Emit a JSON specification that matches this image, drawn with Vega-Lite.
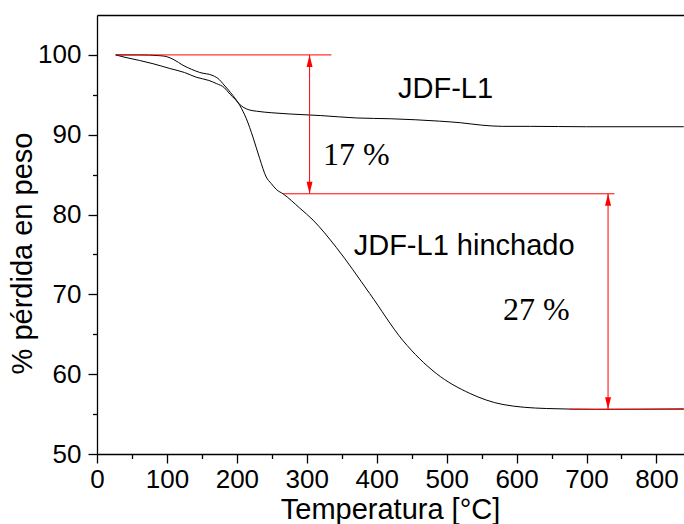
{
  "$schema": "https://vega.github.io/schema/vega-lite/v6.json",
  "width": 587,
  "height": 439,
  "autosize": "none",
  "padding": {"left": 97, "top": 15, "right": 0, "bottom": 70},
  "background": "white",
  "config": {
    "view": {"stroke": null},
    "axis": {
      "grid": false,
      "domainColor": "black",
      "tickColor": "black",
      "labelColor": "black",
      "titleColor": "black",
      "labelFont": "Liberation Sans",
      "titleFont": "Liberation Sans",
      "labelFontSize": 26,
      "titleFontSize": 29,
      "titleFontWeight": "normal",
      "domainWidth": 1.3,
      "tickWidth": 1.3,
      "labelFlush": false,
      "labelOverlap": false,
      "labelBound": false
    }
  },
  "resolve": {"axis": {"x": "independent", "y": "independent"}},
  "layer": [
    {
      "data": {
        "values": [
          {"serie": "JDF-L1", "t": 26.7, "w": 100},
          {"serie": "JDF-L1", "t": 40, "w": 99.7},
          {"serie": "JDF-L1", "t": 61, "w": 99.3},
          {"serie": "JDF-L1", "t": 80, "w": 98.9},
          {"serie": "JDF-L1", "t": 104, "w": 98.3},
          {"serie": "JDF-L1", "t": 125, "w": 97.8},
          {"serie": "JDF-L1", "t": 142, "w": 97.2},
          {"serie": "JDF-L1", "t": 160, "w": 96.8},
          {"serie": "JDF-L1", "t": 171, "w": 96.4},
          {"serie": "JDF-L1", "t": 182, "w": 95.9},
          {"serie": "JDF-L1", "t": 190, "w": 95.1},
          {"serie": "JDF-L1", "t": 198, "w": 94.4},
          {"serie": "JDF-L1", "t": 204, "w": 93.8},
          {"serie": "JDF-L1", "t": 210, "w": 93.4},
          {"serie": "JDF-L1", "t": 218, "w": 93.1},
          {"serie": "JDF-L1", "t": 228, "w": 92.95},
          {"serie": "JDF-L1", "t": 250, "w": 92.75},
          {"serie": "JDF-L1", "t": 275, "w": 92.6},
          {"serie": "JDF-L1", "t": 320, "w": 92.4},
          {"serie": "JDF-L1", "t": 371, "w": 92.1},
          {"serie": "JDF-L1", "t": 420, "w": 92.0},
          {"serie": "JDF-L1", "t": 490, "w": 91.7},
          {"serie": "JDF-L1", "t": 520, "w": 91.5},
          {"serie": "JDF-L1", "t": 550, "w": 91.2},
          {"serie": "JDF-L1", "t": 580, "w": 91.05},
          {"serie": "JDF-L1", "t": 620, "w": 91.05},
          {"serie": "JDF-L1", "t": 700, "w": 91.0},
          {"serie": "JDF-L1", "t": 839, "w": 91.0},
          {"serie": "hinchado", "t": 26.7, "w": 100},
          {"serie": "hinchado", "t": 60, "w": 100},
          {"serie": "hinchado", "t": 90, "w": 99.9},
          {"serie": "hinchado", "t": 99, "w": 99.8},
          {"serie": "hinchado", "t": 110, "w": 99.4},
          {"serie": "hinchado", "t": 123, "w": 98.7},
          {"serie": "hinchado", "t": 135, "w": 98.2},
          {"serie": "hinchado", "t": 147, "w": 97.8},
          {"serie": "hinchado", "t": 166, "w": 97.4},
          {"serie": "hinchado", "t": 175, "w": 96.9},
          {"serie": "hinchado", "t": 180, "w": 96.4},
          {"serie": "hinchado", "t": 188, "w": 95.6},
          {"serie": "hinchado", "t": 194.5, "w": 94.9},
          {"serie": "hinchado", "t": 204, "w": 93.7},
          {"serie": "hinchado", "t": 213.6, "w": 92.0},
          {"serie": "hinchado", "t": 223, "w": 89.7},
          {"serie": "hinchado", "t": 232.7, "w": 87.0},
          {"serie": "hinchado", "t": 242, "w": 84.7},
          {"serie": "hinchado", "t": 249, "w": 83.9},
          {"serie": "hinchado", "t": 257, "w": 83.1},
          {"serie": "hinchado", "t": 266, "w": 82.6},
          {"serie": "hinchado", "t": 290, "w": 80.8},
          {"serie": "hinchado", "t": 309, "w": 79.3},
          {"serie": "hinchado", "t": 342, "w": 75.9},
          {"serie": "hinchado", "t": 390, "w": 70.1},
          {"serie": "hinchado", "t": 437.6, "w": 64.2},
          {"serie": "hinchado", "t": 485, "w": 60.1},
          {"serie": "hinchado", "t": 533, "w": 57.6},
          {"serie": "hinchado", "t": 580.6, "w": 56.2},
          {"serie": "hinchado", "t": 642.6, "w": 55.7},
          {"serie": "hinchado", "t": 714, "w": 55.6},
          {"serie": "hinchado", "t": 839, "w": 55.65}
        ]
      },
      "mark": {"type": "line", "interpolate": "monotone", "color": "black", "strokeWidth": 1},
      "encoding": {
        "x": {
          "field": "t", "type": "quantitative",
          "scale": {"domain": [0, 839.4], "nice": false, "zero": false},
          "axis": {
            "orient": "bottom",
            "title": "Temperatura [°C]",
            "values": [0, 50, 100, 150, 200, 250, 300, 350, 400, 450, 500, 550, 600, 650, 700, 750, 800],
            "labelExpr": "datum.value % 100 === 0 ? datum.label : ''",
            "tickSize": {"condition": {"test": "datum.value % 100 === 0", "value": 9}, "value": 4.5},
            "labelPadding": 3,
            "titleBaseline": "alphabetic",
            "titleY": 64,
            "titleX": 293
          }
        },
        "y": {
          "field": "w", "type": "quantitative",
          "scale": {"domain": [50, 105], "nice": false, "zero": false},
          "axis": {
            "orient": "left",
            "title": "% pérdida en peso",
            "values": [50, 55, 60, 65, 70, 75, 80, 85, 90, 95, 100],
            "labelExpr": "datum.value % 10 === 0 ? datum.label : ''",
            "tickSize": {"condition": {"test": "datum.value % 10 === 0", "value": 9}, "value": 4.5},
            "labelPadding": 7,
            "titleBaseline": "alphabetic",
            "titleAngle": -90,
            "titleX": -66,
            "titleY": 238,
            "titleAlign": "center"
          }
        },
        "detail": {"field": "serie"}
      }
    },
    {
      "data": {
        "values": [
          {"x1": 26.7, "x2": 335.2, "y1": 100, "y2": 100},
          {"x1": 304, "x2": 304, "y1": 100, "y2": 82.6},
          {"x1": 266, "x2": 740, "y1": 82.6, "y2": 82.6},
          {"x1": 730.8, "x2": 730.8, "y1": 82.6, "y2": 55.6},
          {"x1": 676, "x2": 839.4, "y1": 55.6, "y2": 55.6}
        ]
      },
      "mark": {"type": "rule", "color": "#ff0000", "strokeWidth": 1},
      "encoding": {
        "x": {
          "field": "x1", "type": "quantitative",
          "axis": {
            "orient": "top",
            "title": null,
            "labels": false,
            "ticks": false
          }
        },
        "x2": {"field": "x2"},
        "y": {"field": "y1", "type": "quantitative", "axis": null},
        "y2": {"field": "y2"}
      }
    },
    {
      "data": {"values": [{"x": 304, "y": 100}, {"x": 730.8, "y": 82.6}]},
      "mark": {"type": "point", "shape": "M0,0 L-1,4 L1,4 Z", "size": 36, "filled": true, "color": "#ff0000", "opacity": 1, "strokeWidth": 0},
      "encoding": {
        "x": {"field": "x", "type": "quantitative", "axis": null},
        "y": {"field": "y", "type": "quantitative", "axis": null}
      }
    },
    {
      "data": {"values": [{"x": 304, "y": 82.6}, {"x": 730.8, "y": 55.6}]},
      "mark": {"type": "point", "shape": "M0,0 L-1,-4 L1,-4 Z", "size": 36, "filled": true, "color": "#ff0000", "opacity": 1, "strokeWidth": 0},
      "encoding": {
        "x": {"field": "x", "type": "quantitative", "axis": null},
        "y": {"field": "y", "type": "quantitative", "axis": null}
      }
    },
    {
      "data": {
        "values": [
          {"label": "JDF-L1", "x": 430.4, "y": 94.63},
          {"label": "JDF-L1 hinchado", "x": 367.1, "y": 74.88}
        ]
      },
      "mark": {"type": "text", "font": "Liberation Sans", "fontSize": 29, "align": "left", "baseline": "alphabetic", "color": "black"},
      "encoding": {
        "x": {"field": "x", "type": "quantitative", "axis": null},
        "y": {"field": "y", "type": "quantitative", "axis": null},
        "text": {"field": "label"}
      }
    },
    {
      "data": {
        "values": [
          {"label": "17 %", "x": 323.2, "y": 86.24},
          {"label": "27 %", "x": 580.6, "y": 66.83}
        ]
      },
      "mark": {"type": "text", "font": "Liberation Serif", "fontSize": 32, "align": "left", "baseline": "alphabetic", "color": "black"},
      "encoding": {
        "x": {"field": "x", "type": "quantitative", "axis": null},
        "y": {"field": "y", "type": "quantitative", "axis": null},
        "text": {"field": "label"}
      }
    }
  ]
}
